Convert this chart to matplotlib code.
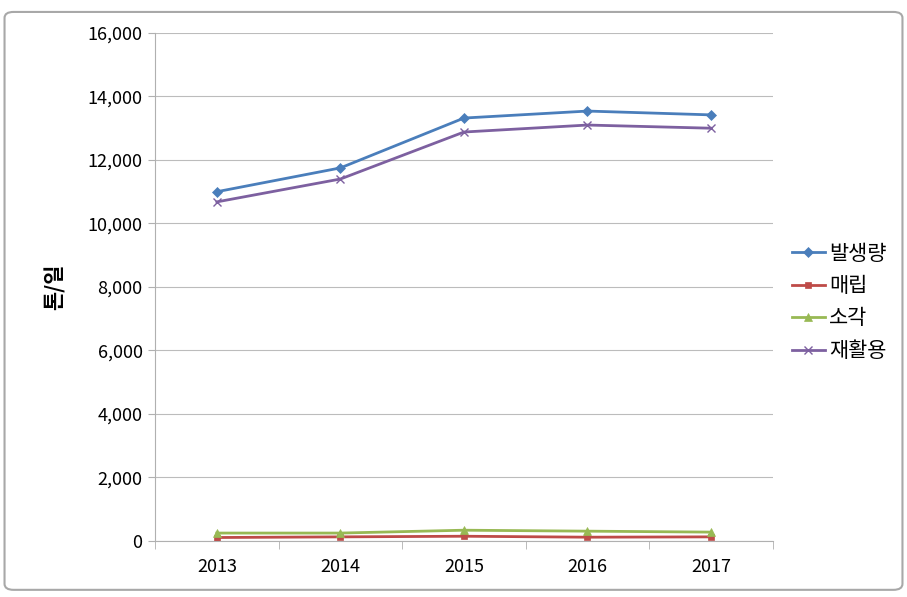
import numpy as np
import matplotlib
matplotlib.use('Agg')
import matplotlib.pyplot as plt
from matplotlib.patches import FancyBboxPatch

plt.rcParams['font.family'] = ['Noto Sans CJK KR', 'DejaVu Sans']

# data (톤/일)
years = ['2013', '2014', '2015', '2016', '2017']
generated = [11000, 11750, 13320, 13540, 13420]   # 발생량
landfill = [110, 130, 150, 120, 130]              # 매립
incinerate = [250, 250, 340, 310, 280]            # 소각
recycle = [10680, 11400, 12880, 13100, 13000]     # 재활용

series = [
    ('발생량', generated, '#4a7ebb', 'D', 5),
    ('매립', landfill, '#be4b48', 's', 5),
    ('소각', incinerate, '#98b954', '^', 6),
    ('재활용', recycle, '#7d60a0', 'x', 6),
]

fig = plt.figure(figsize=(9.07, 5.97), dpi=100)
ax = fig.add_axes([0.171, 0.0938, 0.681, 0.851])

x = np.arange(len(years))
for name, vals, col, mk, ms in series:
    ax.plot(x, vals, color=col, linewidth=2, marker=mk, markersize=ms,
            markeredgewidth=1 if mk == 'x' else 0.5, label=name)

ax.set_xlim(-0.5, len(years) - 0.5)
ax.set_ylim(0, 16000)
ax.set_yticks(np.arange(0, 16001, 2000))
ax.set_yticklabels(['{:,}'.format(v) for v in range(0, 16001, 2000)])
ax.set_xticks(x)
ax.set_xticklabels(years)
ax.set_xticks(np.arange(-0.5, len(years)), minor=True)

ax.grid(axis='y', color='#bcbcbc', linewidth=0.8)
ax.set_axisbelow(True)
for s in ['top', 'right']:
    ax.spines[s].set_visible(False)
for s in ['left', 'bottom']:
    ax.spines[s].set_color('#b0b0b0')
ax.tick_params(axis='x', which='major', length=0, labelsize=13, pad=12)
ax.tick_params(axis='x', which='minor', length=6, color='#b0b0b0')
ax.tick_params(axis='y', length=5, color='#b0b0b0', labelsize=13, pad=4)

ax.set_ylabel('톤/일', fontsize=15, fontweight='bold', labelpad=16)

ax.legend(loc='center left', bbox_to_anchor=(1.0, 0.47), frameon=False,
          fontsize=15, handlelength=1.6, handletextpad=0.2, labelspacing=0.5)

border = FancyBboxPatch((0.005, 0.012), 0.99, 0.968, transform=fig.transFigure,
                        boxstyle='round,pad=0,rounding_size=0.01',
                        facecolor='none', edgecolor='#a8a8a8', linewidth=1.5)
fig.patches.append(border)

fig.savefig('out.png', dpi=100)
